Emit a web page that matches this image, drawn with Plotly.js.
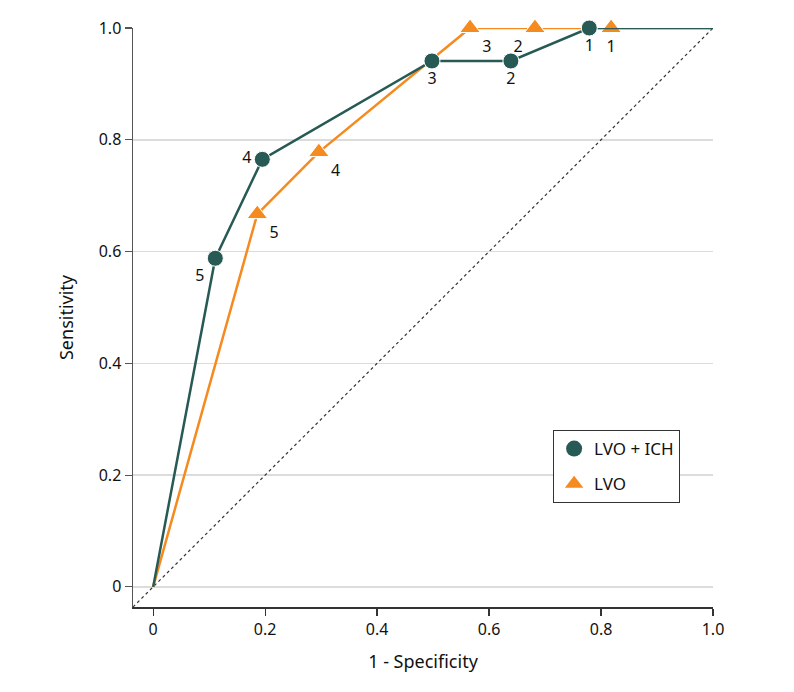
<!DOCTYPE html>
<html>
<head>
<meta charset="utf-8">
<script src="https://cdn.plot.ly/plotly-3.0.1.min.js"></script>
<style>html,body{margin:0;padding:0;background:#fff;}</style>
</head>
<body>
<div id="chart" style="width:794px;height:692px;"></div>
<script>
// LVO + ICH
const ichX = [0, 0.111, 0.195, 0.498, 0.639, 0.779, 1.0];
const ichY = [0, 0.588, 0.765, 0.941, 0.941, 1.0, 1.0];
const ichLabels = ["", "5", "4", "3", "2", "1", ""];
// LVO
const lvoX = [0, 0.186, 0.296, 0.566, 0.682, 0.818, 1.0];
const lvoY = [0, 0.667, 0.778, 1.0, 1.0, 1.0, 1.0];
const lvoLabels = ["", "5", "4", "3", "2", "1", ""];
const seriesNames = ["LVO + ICH", "LVO"];
const tickVals = [0, 0.2, 0.4, 0.6, 0.8, 1.0];
const tickText = ["0", "0.2", "0.4", "0.6", "0.8", "1.0"];

const teal = "#275955";
const orange = "#f58a1f";
const font = "Noto Sans, sans-serif";

const ichPos = ["middle center", "bottom left", "middle left", "bottom center", "bottom center", "bottom center", "middle center"];
const lvoPos = ["middle center", "bottom right", "bottom right", "bottom right", "bottom left", "bottom center", "middle center"];

const lvoSizes = lvoX.map((v, i) => (i === 0 || i === lvoX.length - 1) ? 0 : 18);
const ichSizes = ichX.map((v, i) => (i === 0 || i === ichX.length - 1) ? 0 : 16);

const traces = [
  {x: [-0.036, 1.0], y: [-0.036, 1.0], mode: "lines", line: {color: "#333", width: 1.2, dash: "dot"}, showlegend: false, hoverinfo: "skip", cliponaxis: false},
  {x: lvoX, y: lvoY, mode: "lines+markers+text", text: lvoLabels, textposition: lvoPos,
   textfont: {family: font, size: 16, color: "#111"},
   line: {color: orange, width: 2.5}, marker: {symbol: "triangle-up", size: lvoSizes, color: orange, opacity: 1},
   showlegend: false, cliponaxis: false},
  {x: ichX, y: ichY, mode: "lines+markers+text", text: ichLabels, textposition: ichPos,
   textfont: {family: font, size: 16, color: "#111"},
   line: {color: teal, width: 2.5}, marker: {symbol: "circle", size: ichSizes, color: teal, opacity: 1},
   showlegend: false, cliponaxis: false},
  {x: [null], y: [null], mode: "markers", name: seriesNames[0], legendgroup: "a", marker: {symbol: "circle", size: 16, color: teal}},
  {x: [null], y: [null], mode: "markers", name: seriesNames[1], legendgroup: "b", marker: {symbol: "triangle-up", size: 18, color: orange}}
];

const layout = {
  width: 794, height: 692,
  margin: {l: 133, r: 81, t: 28, b: 85},
  paper_bgcolor: "#fff", plot_bgcolor: "#fff",
  font: {family: font, size: 16, color: "#111"},
  xaxis: {
    range: [-0.036, 1.0], tickvals: tickVals, ticktext: tickText,
    showgrid: false, zeroline: false, showline: true, linecolor: "#333", linewidth: 1.5,
    ticks: "outside", ticklen: 7, tickcolor: "#333", tickwidth: 1.2,
    tickfont: {family: font, size: 16, color: "#111"},
    title: {text: "1 - Specificity", font: {family: font, size: 18, color: "#111"}, standoff: 16}
  },
  yaxis: {
    range: [-0.036, 1.0], tickvals: tickVals, ticktext: tickText,
    showgrid: true, gridcolor: "#dcdcdc", gridwidth: 1.5, zeroline: false,
    showline: true, linecolor: "#555", linewidth: 1.5,
    ticks: "outside", ticklen: 7, tickcolor: "#555", tickwidth: 1.2,
    tickfont: {family: font, size: 16, color: "#111"},
    title: {text: "Sensitivity", font: {family: font, size: 18, color: "#111"}, standoff: 20}
  },
  showlegend: true,
  legend: {
    x: 0.724, y: 0.306, xanchor: "left", yanchor: "top",
    bgcolor: "#fff", bordercolor: "#333", borderwidth: 1.2,
    font: {family: font, size: 17, color: "#111"},
    tracegroupgap: 10, itemwidth: 30
  }
};

Plotly.newPlot("chart", traces, layout, {displayModeBar: false, staticPlot: true});
</script>
</body>
</html>
